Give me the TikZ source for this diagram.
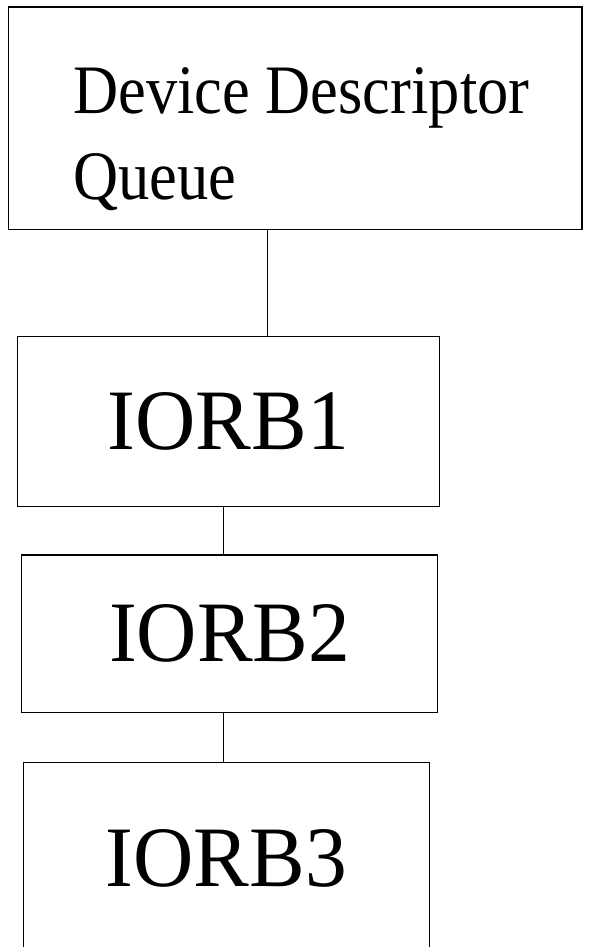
\documentclass[tikz,border=0pt]{standalone}
\usepackage{fontspec}
\setmainfont{Liberation Serif}
\newfontfamily\queuefont[FakeStretch = 0.9]{Liberation Serif}
\newfontfamily\iorbfont[FakeStretch = 0.97]{Liberation Serif}
\usetikzlibrary{calc}

\begin{document}
\begin{tikzpicture}[x = .02cm, y = -.02cm, line join = miter,
	box/.style = {rectangle, draw = black, line width = .75pt, anchor = center, outer sep = 0pt, inner sep = 0pt},
	link/.style = {draw = black, line width = .6pt},
	big/.style = {font = \iorbfont\fontsize{49}{58}\selectfont}]
			%		\draw[gray!50] (0,0) grid[step = 50] (592,947);
			\useasboundingbox (0,0) rectangle (592,947);
			
			\node[box, minimum width = 11.47cm, minimum height = 4.45cm] (queue) at (295.25,118.25) {};
			% base anchor sits on the last line here
			\node[anchor = base west, inner sep = 0pt, align = left, font = \queuefont\fontsize{39.5}{48.4}\selectfont] (qtext) at (73,199) {Device Descriptor\\Queue};
			
			\node[box, big, minimum width = 8.44cm, minimum height = 3.4cm] (iorb1) at (228.3,421.7) {IORB1};
			\node[box, big, minimum width = 8.32cm, minimum height = 3.154cm] (iorb2) at (229.7,633.85) {IORB2};
			% last box runs off the bottom edge
			\node[box, big, minimum width = 8.12cm, minimum height = 3.84cm] (iorb3) at (226.3,858.7) {IORB3};
			
			\path
			($(iorb1.north west)!.592!(iorb1.north east)$) coordinate (up1)
			($(iorb1.south west)!.488!(iorb1.south east)$) coordinate (dn1)
			($(iorb2.south west)!.485!(iorb2.south east)$) coordinate (dn2)
			;
			\draw[link] (up1) -- (up1 |- queue.south);
			\draw[link] (dn1) -- (dn1 |- iorb2.north);
			\draw[link] (dn2) -- (dn2 |- iorb3.north);
		\end{tikzpicture}
\end{document}
